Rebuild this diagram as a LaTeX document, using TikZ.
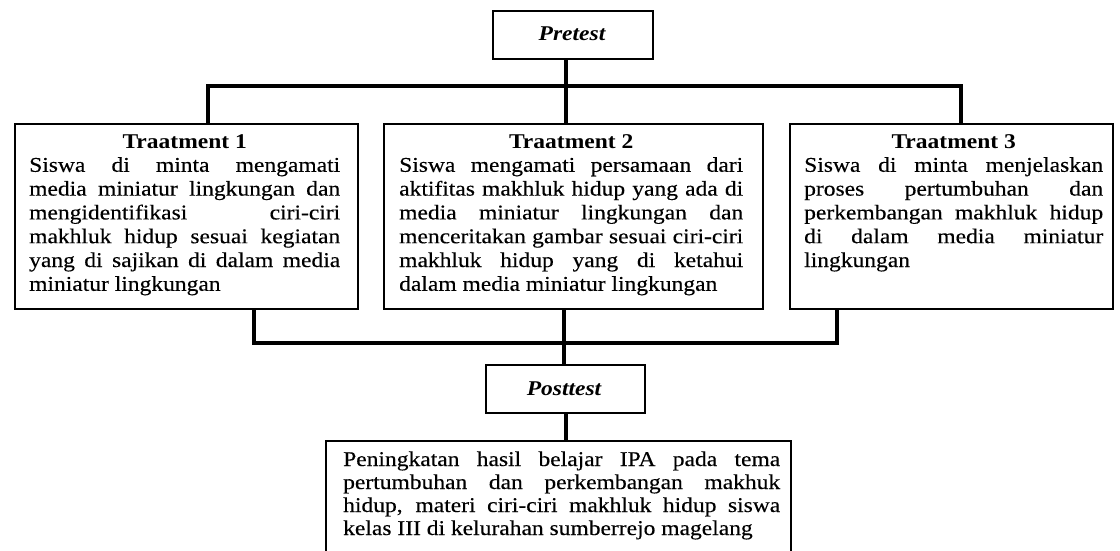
\documentclass[tikz,border=0pt]{standalone}
\usepackage{fontspec}
\setmainfont{Liberation Serif}[FakeStretch=1.12,UprightFeatures={FakeBold=0.3}]
\newcommand\jline[1]{\hbox to \linewidth{#1}}
\newcommand\lline[1]{\hbox{#1}}
\newcommand\tbhead[1]{\hbox to \linewidth{\hfil\bfseries #1\hfil}}
\begin{document}
\begin{tikzpicture}[x=1pt,y=-1pt,
  box/.style={draw, line width=1.9pt, inner sep=0pt, anchor=north west},
  conn/.style={line width=3.3pt},
  txt/.style={inner sep=0pt, anchor=base west},
  ttl/.style={inner sep=0pt, anchor=base, font=\fontsize{21}{24}\selectfont\bfseries\itshape}]
\useasboundingbox (0,0) rectangle (1120,550);
\fill[white] (0,0) rectangle (1120,550);
\clip (0,0) rectangle (1120,550);

% Pretest
\node[box, minimum width=160pt, minimum height=48pt] (pre) at (492,10) {};
\node[ttl] (pretxt) at (572,40) {Pretest};

% Treatment boxes
\node[box, minimum width=343pt, minimum height=185pt] (t1) at (14,123) {};
\node[box, minimum width=379pt, minimum height=185pt] (t2) at (383,123) {};
\node[box, minimum width=323pt, minimum height=185pt] (t3) at (789,123) {};

\node[txt] (t1txt) at (29,148) {\parbox[t]{311pt}{\fontsize{21}{23.8}\selectfont
\tbhead{Traatment 1}
\jline{Siswa di minta mengamati}
\jline{media miniatur lingkungan dan}
\jline{mengidentifikasi ciri-ciri}
\jline{makhluk hidup sesuai kegiatan}
\jline{yang di sajikan di dalam media}
\lline{miniatur lingkungan}}};

\node[txt] (t2txt) at (399,148) {\parbox[t]{344pt}{\fontsize{21}{23.8}\selectfont
\tbhead{Traatment 2}
\jline{Siswa mengamati persamaan dari}
\jline{aktifitas makhluk hidup yang ada di}
\jline{media miniatur lingkungan dan}
\jline{menceritakan gambar sesuai ciri-ciri}
\jline{makhluk hidup yang di ketahui}
\lline{dalam media miniatur lingkungan}}};

\node[txt] (t3txt) at (804,148) {\parbox[t]{299pt}{\fontsize{21}{23.8}\selectfont
\tbhead{Traatment 3}
\jline{Siswa di minta menjelaskan}
\jline{proses pertumbuhan dan}
\jline{perkembangan makhluk hidup}
\jline{di dalam media miniatur}
\lline{lingkungan}}};

% Posttest
\node[box, minimum width=159pt, minimum height=48pt] (post) at (485,364) {};
\node[ttl] (posttxt) at (564,395) {Posttest};

% Result
\node[box, minimum width=465pt, minimum height=130pt] (res) at (325,440) {};
\node[txt] (restxt) at (343,466) {\parbox[t]{437pt}{\fontsize{21}{23}\selectfont
\jline{Peningkatan hasil belajar IPA pada tema}
\jline{pertumbuhan dan perkembangan makhuk}
\jline{hidup, materi ciri-ciri makhluk hidup siswa}
\lline{kelas III di kelurahan sumberrejo magelang}}};

% top bus
\coordinate (busL) at (208,86);
\coordinate (busM) at (566,86);
\coordinate (busR) at (961,86);
\draw[conn] (busL |- t1.north) -- (busL) -- (busR) -- (busR |- t3.north);
\draw[conn] (busM |- pre.south) -- (busM |- t2.north);

% bottom bus
\coordinate (bbL) at (254,343);
\coordinate (bbM) at (564,343);
\coordinate (bbR) at (837,343);
\draw[conn] (bbL |- t1.south) -- (bbL) -- (bbR) -- (bbR |- t3.south);
\draw[conn] (bbM |- t2.south) -- (bbM |- post.north);

% posttest to result
\coordinate (pr) at (566,426);
\draw[conn] (pr |- post.south) -- (pr |- res.north);
\end{tikzpicture}
\end{document}
